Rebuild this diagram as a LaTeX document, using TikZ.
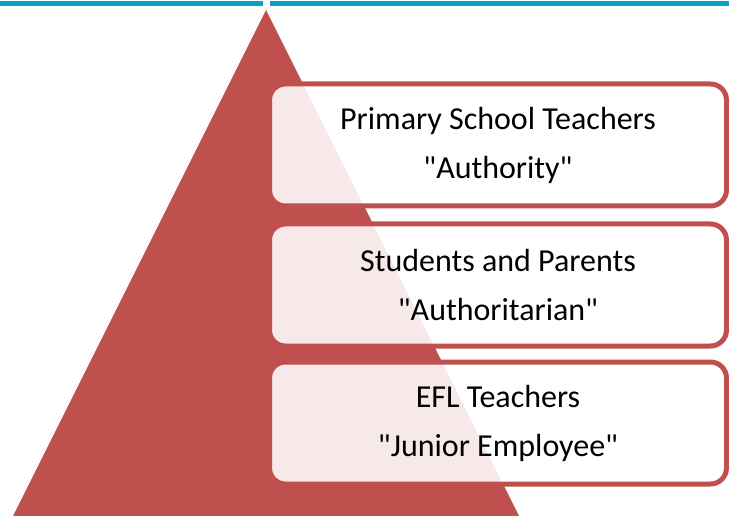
\documentclass[tikz,border=0pt]{standalone}
\usepackage{fontspec}
\newfontfamily\tierfont{Carlito}
\usetikzlibrary{positioning}
\definecolor{pyramid}{RGB}{192,80,77}
\definecolor{topline}{RGB}{10,160,204}
\tikzstyle{tier}=[draw=pyramid, line width=5pt, fill=white, fill opacity=.88, text opacity=1,
  rounded corners=16pt, minimum width=457pt, minimum height=122pt, align=center,
  font=\tierfont\fontsize{32}{49}\selectfont]
\tikzset{y=-1pt}
\tikzset{x=1pt}

\begin{document}
\begin{tikzpicture}
  \useasboundingbox (0,0) rectangle (729,516);
  %% rule along the top
  \fill[topline] (0,1) rectangle (729,6);
  \fill[white] (263,0) rectangle (270,7);

  %% the pyramid
  \coordinate (apex) at (266,10);
  \coordinate (baseL) at (13,516);
  \coordinate (baseR) at (519,516);
  \fill[pyramid] (apex) -- (baseR) -- (baseL) -- cycle;

  %% tiers
  \draw (498,145) node[tier] (T1) {Primary School Teachers\\"Authority"};
  \draw (498,285) node[tier] (T2) {Students and Parents\\"Authoritarian"};
  \draw (498,423) node[tier] (T3) {EFL Teachers\\"Junior Employee"};
\end{tikzpicture}
\end{document}
